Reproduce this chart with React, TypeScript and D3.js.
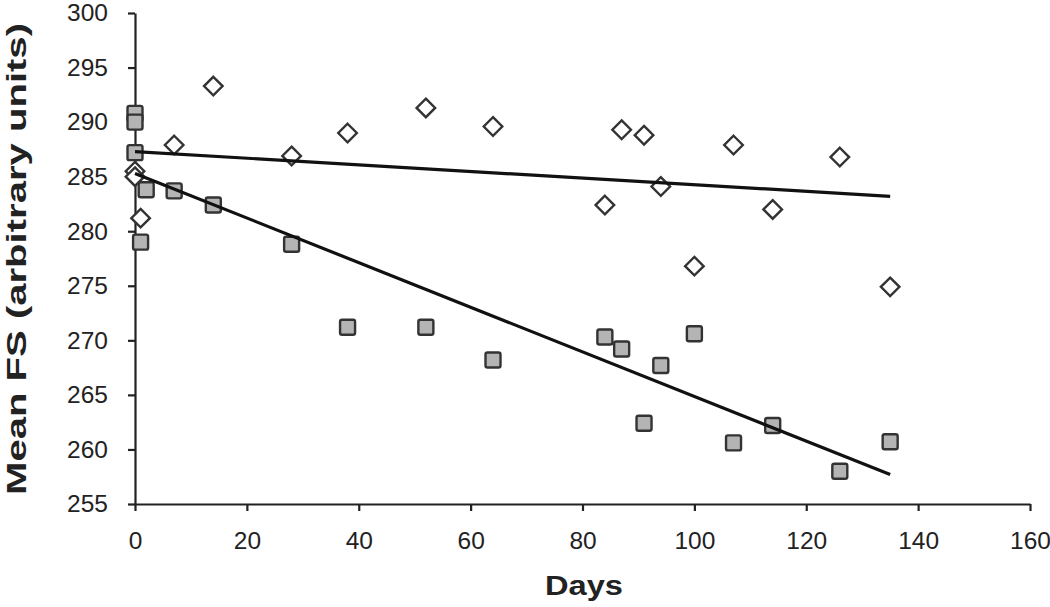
import React, { useEffect, useRef } from 'react';
import * as d3 from 'd3';

// Readings from the picture (days, mean FS)
const squareDays = [0, 0, 0, 1, 2, 7, 14, 28, 38, 52, 64, 84, 87, 91, 94, 100, 107, 114, 126, 135];
const squareFS = [290.8, 290.0, 287.2, 279.0, 283.8, 283.7, 282.4, 278.8, 271.2, 271.2, 268.2, 270.3, 269.2, 262.4, 267.7, 270.6, 260.6, 262.2, 258.0, 260.7];

const diamondDays = [0, 0, 1, 7, 14, 28, 38, 52, 64, 84, 87, 91, 94, 100, 107, 114, 126, 135];
const diamondFS = [285.5, 285.0, 281.2, 287.9, 293.3, 286.9, 289.0, 291.3, 289.6, 282.4, 289.3, 288.8, 284.1, 276.8, 287.9, 282.0, 286.8, 274.9];

// Trend line end points [day, FS]
const diamondFit: [number, number][] = [[0, 287.3], [135, 283.2]];
const squareFit: [number, number][] = [[0, 285.3], [135, 257.7]];

const xTicks = [0, 20, 40, 60, 80, 100, 120, 140, 160];
const yTicks = [255, 260, 265, 270, 275, 280, 285, 290, 295, 300];

const WIDTH = 1050;
const HEIGHT = 607;
const FONT = '"Liberation Sans", Arial, sans-serif';
const INK = '#222';

const App: React.FC = () => {
  const svgRef = useRef<SVGSVGElement>(null);

  useEffect(() => {
    if (!svgRef.current) return;
    const svg = d3.select(svgRef.current);
    svg.selectAll('*').remove();

    const x = d3.scaleLinear().domain([0, 160]).range([135, 1030]);
    const y = d3.scaleLinear().domain([255, 300]).range([504, 13]);

    // Axes
    const yAxis = svg.append('g')
      .attr('transform', `translate(${x(0)},0)`)
      .call(d3.axisLeft(y).tickValues(yTicks).tickSize(7).tickSizeOuter(0).tickPadding(20));
    const xAxis = svg.append('g')
      .attr('transform', `translate(0,${y(255)})`)
      .call(d3.axisBottom(x).tickValues(xTicks).tickSize(7).tickSizeOuter(0).tickPadding(21));

    [xAxis, yAxis].forEach(ax => {
      ax.select('.domain').attr('stroke', INK).attr('stroke-width', 2.2);
      ax.selectAll('.tick line').attr('stroke', INK).attr('stroke-width', 2.2);
      ax.selectAll('.tick text')
        .attr('fill', INK)
        .attr('font-family', FONT)
        .attr('font-size', 24.5);
    });

    // Markers
    const diamond = d3.symbol().type(d3.symbolDiamond2).size(220);
    svg.append('g')
      .selectAll('path')
      .data(diamondDays.map((d, i) => [d, diamondFS[i]]))
      .enter()
      .append('path')
      .attr('d', diamond as any)
      .attr('transform', d => `translate(${x(d[0])},${y(d[1])})`)
      .attr('fill', '#fff')
      .attr('stroke', '#333')
      .attr('stroke-width', 2.4);

    const s = 15;
    svg.append('g')
      .selectAll('rect')
      .data(squareDays.map((d, i) => [d, squareFS[i]]))
      .enter()
      .append('rect')
      .attr('x', d => x(d[0]) - s / 2)
      .attr('y', d => y(d[1]) - s / 2)
      .attr('width', s)
      .attr('height', s)
      .attr('rx', 2)
      .attr('fill', '#b4b4b4')
      .attr('stroke', '#333')
      .attr('stroke-width', 2.4);

    // Trend lines
    const line = d3.line<[number, number]>().x(d => x(d[0])).y(d => y(d[1]));
    [diamondFit, squareFit].forEach(fit => {
      svg.append('path')
        .datum(fit)
        .attr('d', line)
        .attr('fill', 'none')
        .attr('stroke', '#111')
        .attr('stroke-width', 3.2);
    });

    // Axis titles
    svg.append('text')
      .attr('x', 584)
      .attr('y', 595)
      .attr('text-anchor', 'middle')
      .attr('font-family', FONT)
      .attr('font-weight', 'bold')
      .attr('font-size', 28)
      .attr('fill', INK)
      .attr('textLength', 78)
      .attr('lengthAdjust', 'spacingAndGlyphs')
      .text('Days');

    svg.append('text')
      .attr('transform', 'translate(26,259) rotate(-90)')
      .attr('text-anchor', 'middle')
      .attr('font-family', FONT)
      .attr('font-weight', 'bold')
      .attr('font-size', 28)
      .attr('fill', INK)
      .attr('textLength', 472)
      .attr('lengthAdjust', 'spacingAndGlyphs')
      .text('Mean FS (arbitrary units)');
  }, []);

  return (
    <div style={{ position: 'absolute', left: 0, top: 0, background: '#fff' }}>
      <svg ref={svgRef} width={WIDTH} height={HEIGHT} style={{ display: 'block' }} />
    </div>
  );
};

export default App;
